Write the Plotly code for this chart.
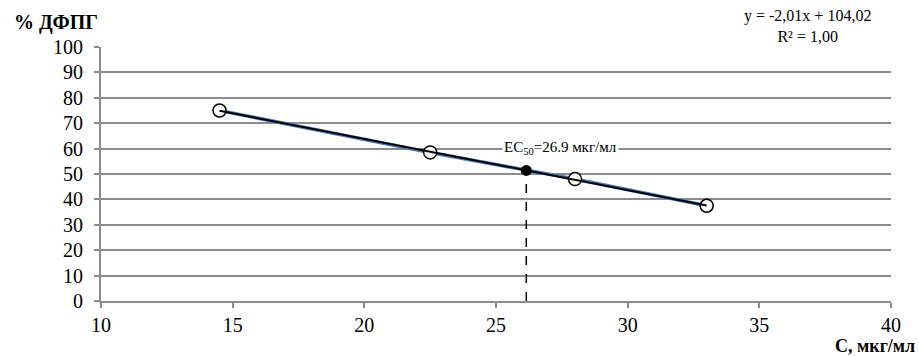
import numpy as np
import plotly.graph_objects as go

# Data
conc = [14.5, 22.5, 28.0, 33.0]
dfpg = [75.0, 58.5, 48.0, 37.5]
ec50_marker_x = 26.15
ec50_label = "EC<sub>50</sub>=26.9 мкг/мл"
eq_label = "y = -2,01x + 104,02<br>R² = 1,00"
x_ticks = [10, 15, 20, 25, 30, 35, 40]
y_ticks = [0, 10, 20, 30, 40, 50, 60, 70, 80, 90, 100]

slope, intercept = np.polyfit(conc, dfpg, 1)
trend_x = [min(conc), max(conc)]
trend_y = [slope * v + intercept for v in trend_x]
ec50_y = slope * ec50_marker_x + intercept

FONT = "Liberation Serif"
GRID = "#8c8c8c"

fig = go.Figure()
fig.add_trace(go.Scatter(
    x=conc, y=dfpg, mode="lines+markers",
    line=dict(color="#4a7ebb", width=3.5),
    marker=dict(symbol="circle", size=13, color="white",
                line=dict(color="black", width=1.5)),
    showlegend=False, hoverinfo="x+y"))
fig.add_trace(go.Scatter(
    x=trend_x, y=trend_y, mode="lines",
    line=dict(color="black", width=2), showlegend=False))
fig.add_trace(go.Scatter(
    x=[ec50_marker_x, ec50_marker_x], y=[0, ec50_y], mode="lines",
    line=dict(color="black", width=1.5, dash="dash"), showlegend=False))
fig.add_trace(go.Scatter(
    x=[ec50_marker_x], y=[ec50_y], mode="markers",
    marker=dict(symbol="circle", size=11, color="black"), showlegend=False))

fig.add_annotation(x=ec50_marker_x, y=ec50_y, xref="x", yref="y",
                   text=ec50_label, showarrow=False, xshift=34, yshift=22,
                   bgcolor="white", font=dict(family=FONT, size=15, color="black"),
                   borderpad=1)
fig.add_annotation(x=0.894, y=1.0, xref="paper", yref="paper",
                   xanchor="center", yanchor="bottom", yshift=0,
                   text=eq_label, showarrow=False,
                   font=dict(family=FONT, size=16, color="black"))
fig.add_annotation(x=-0.113, y=1.098, xref="paper", yref="paper",
                   xanchor="left", yanchor="middle",
                   text="<b>% ДФПГ</b>", showarrow=False,
                   font=dict(family=FONT, size=20, color="black"))
fig.add_annotation(x=1.033, y=-0.176, xref="paper", yref="paper",
                   xanchor="right", yanchor="middle",
                   text="<b>C, мкг/мл</b>", showarrow=False,
                   font=dict(family=FONT, size=18, color="black"))

fig.update_layout(
    width=919, height=356,
    margin=dict(l=101, r=28, t=47, b=55),
    paper_bgcolor="white", plot_bgcolor="white",
    font=dict(family=FONT, size=20, color="black"),
    xaxis=dict(range=[10, 40], tickvals=x_ticks, showgrid=False,
               showline=True, linecolor=GRID, linewidth=2,
               ticks="outside", ticklen=5, tickcolor=GRID, tickwidth=2,
               zeroline=False, automargin=False, ticklabelstandoff=0,
               tickfont=dict(family=FONT, size=20, color="black")),
    yaxis=dict(range=[0, 100], tickvals=y_ticks, showgrid=True,
               gridcolor=GRID, gridwidth=1.5,
               showline=True, linecolor=GRID, linewidth=2,
               ticks="outside", ticklen=5, tickcolor=GRID, tickwidth=2,
               zeroline=False, automargin=False, ticklabelstandoff=7,
               tickfont=dict(family=FONT, size=20, color="black")),
)

fig.write_html("out.html", config={"displayModeBar": False},
               post_script="document.body.style.margin='0';")
